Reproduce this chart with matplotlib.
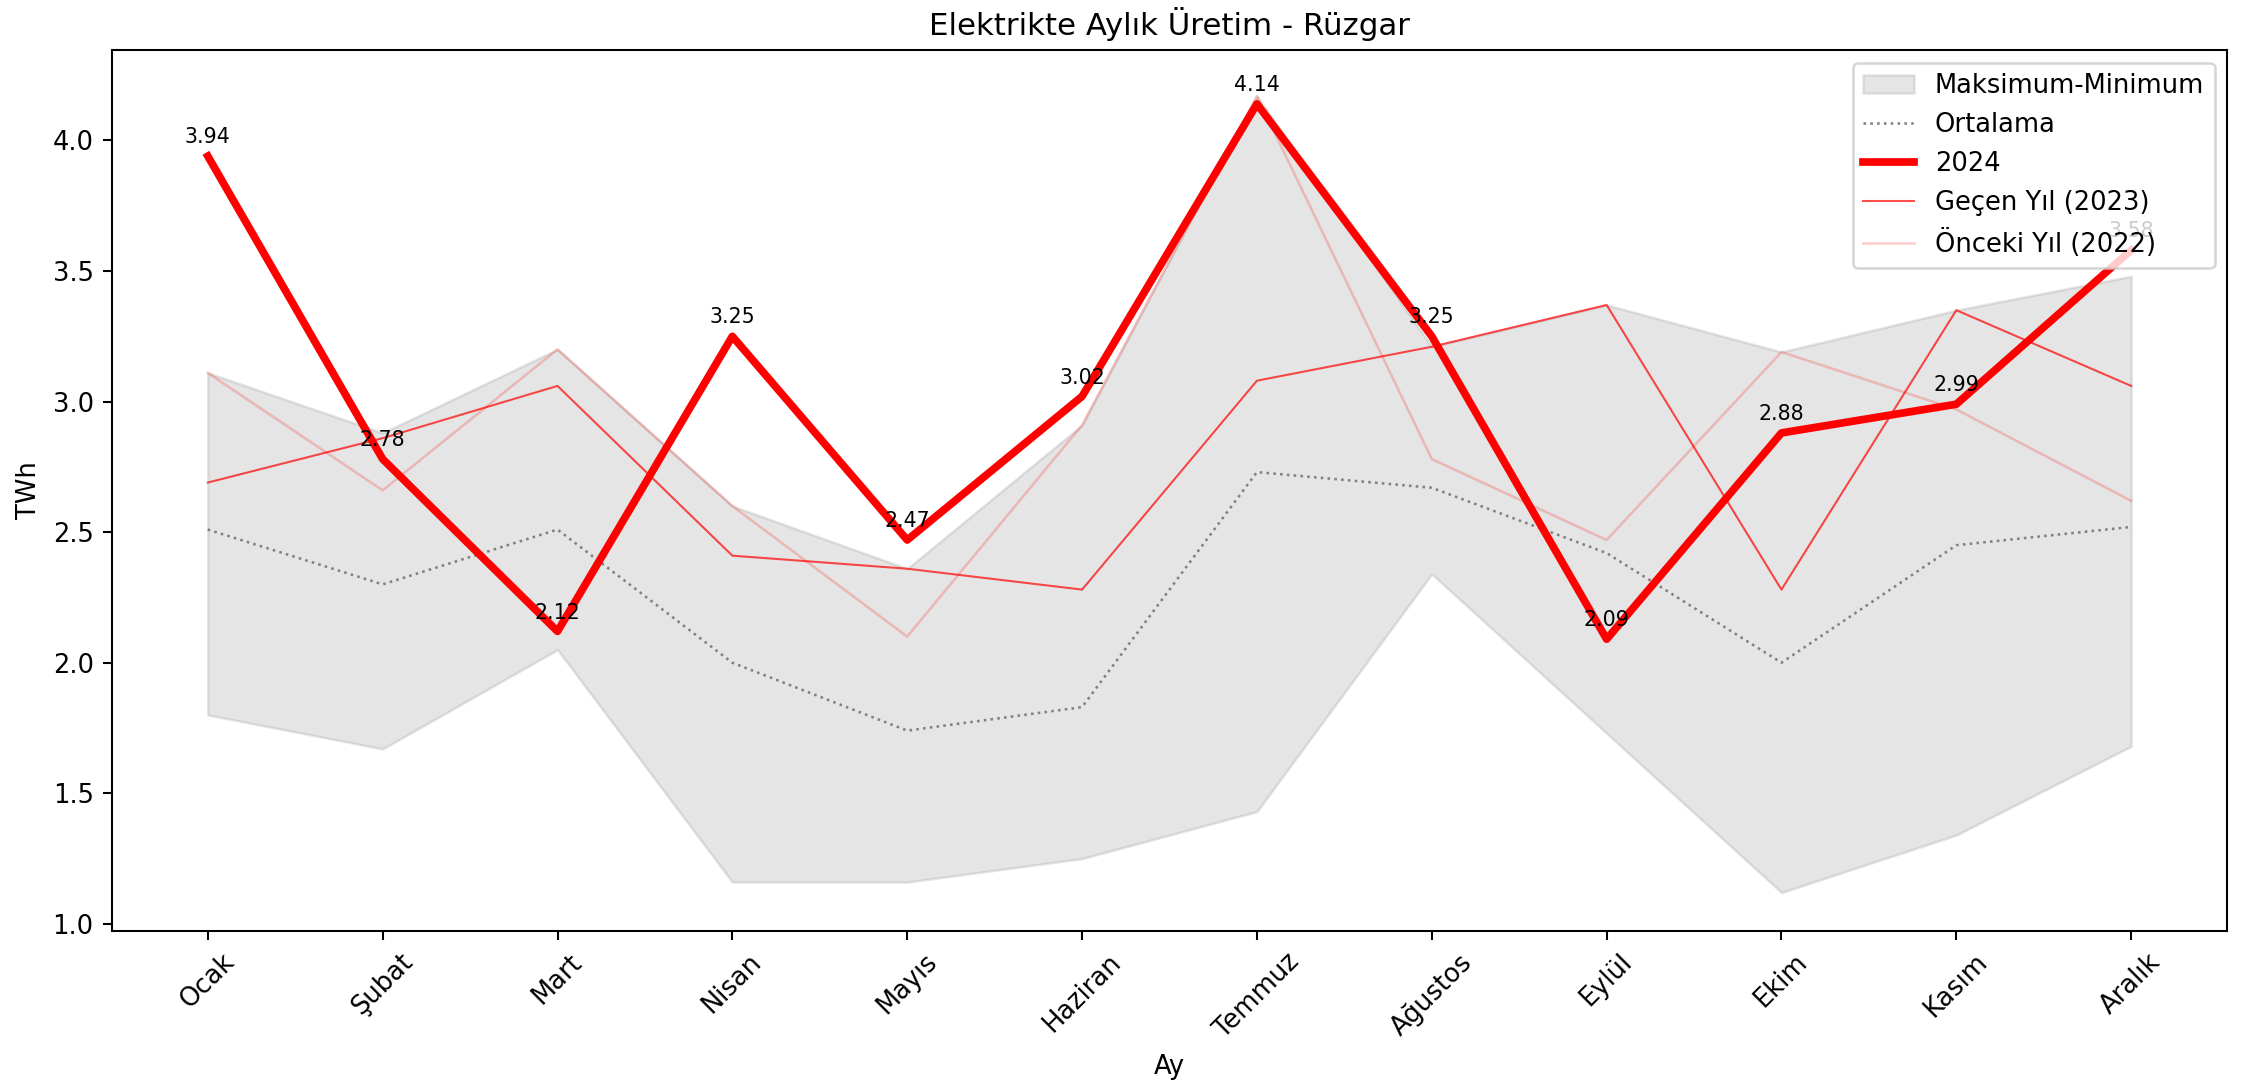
import numpy as np
import matplotlib
matplotlib.use('Agg')
import matplotlib.pyplot as plt

aylar = ['Ocak', 'Şubat', 'Mart', 'Nisan', 'Mayıs', 'Haziran',
         'Temmuz', 'Ağustos', 'Eylül', 'Ekim', 'Kasım', 'Aralık']

# TWh
uretim_2024 = [3.94, 2.78, 2.12, 3.25, 2.47, 3.02, 4.14, 3.25, 2.09, 2.88, 2.99, 3.58]
uretim_2023 = [2.69, 2.86, 3.06, 2.41, 2.36, 2.28, 3.08, 3.21, 3.37, 2.28, 3.35, 3.06]
uretim_2022 = [3.11, 2.66, 3.20, 2.60, 2.10, 2.91, 4.17, 2.78, 2.47, 3.19, 2.97, 2.62]
ortalama = [2.51, 2.30, 2.51, 2.00, 1.74, 1.83, 2.73, 2.67, 2.42, 2.00, 2.45, 2.52]
maksimum = [3.11, 2.88, 3.20, 2.60, 2.36, 2.91, 4.17, 3.21, 3.37, 3.19, 3.35, 3.48]
minimum = [1.80, 1.67, 2.05, 1.16, 1.16, 1.25, 1.43, 2.34, 1.73, 1.12, 1.34, 1.68]

DPI = 185
fig, ax = plt.subplots(figsize=(2246 / DPI, 1087 / DPI), dpi=DPI)
fig.subplots_adjust(left=0.0497, right=0.9917, top=0.9539, bottom=0.1436)

x = np.arange(len(aylar))
ax.fill_between(x, minimum, maksimum, color='gray', alpha=0.2,
                label='Maksimum-Minimum')
ax.plot(x, ortalama, color='gray', ls=':', lw=1, label='Ortalama')
ax.plot(x, uretim_2024, color='red', lw=3, label='2024')
ax.plot(x, uretim_2023, color='red', lw=0.8, alpha=0.7, label='Geçen Yıl (2023)')
ax.plot(x, uretim_2022, color='red', lw=1, alpha=0.2, label='Önceki Yıl (2022)')

for i, v in enumerate(uretim_2024):
    ax.annotate(f'{v:.2f}', xy=(x[i], v), xytext=(0, 5),
                textcoords='offset points', ha='center', fontsize=8)

ax.set_xticks(x)
ax.set_xticklabels(aylar, rotation=45)
ax.set_ylim(0.973, 4.346)
ax.set_title('Elektrikte Aylık Üretim - Rüzgar')
ax.set_xlabel('Ay')
ax.set_ylabel('TWh')
ax.legend(loc='upper right')

fig.savefig('out.png', dpi=DPI)
